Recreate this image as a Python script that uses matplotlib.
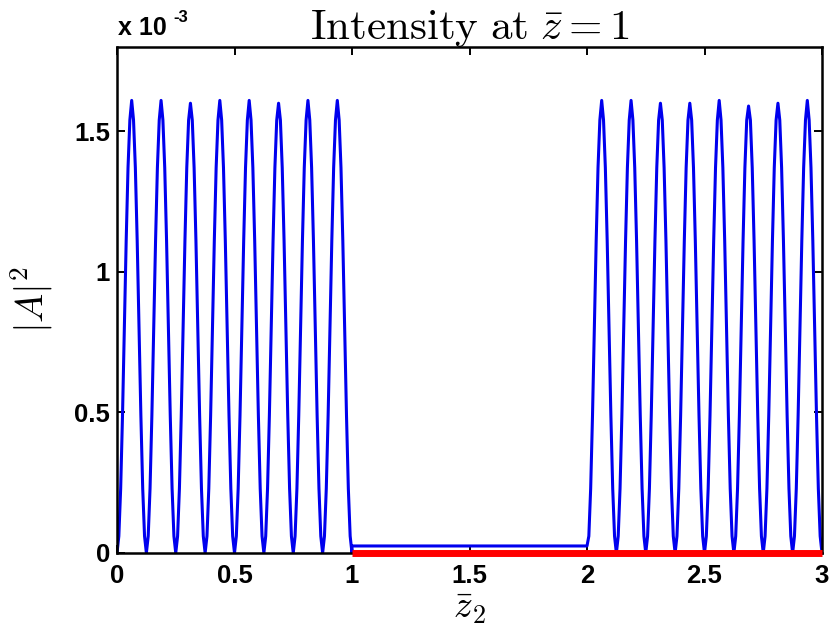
import numpy as np
import matplotlib
matplotlib.use("Agg")
import matplotlib.pyplot as plt

plt.rcParams['mathtext.fontset'] = 'cm'

# ---- data (values in units of 1e-3) ----
# one row per oscillation period, 16 samples each (period = 0.125 in z2)
seg1_rows = [
    [0, 0.06, 0.23, 0.49, 0.80, 1.11, 1.37, 1.54, 1.61, 1.54, 1.37, 1.11, 0.80, 0.49, 0.23, 0.06],
    [0, 0.06, 0.23, 0.49, 0.80, 1.11, 1.37, 1.54, 1.61, 1.54, 1.37, 1.11, 0.80, 0.49, 0.23, 0.06],
    [0, 0.06, 0.23, 0.49, 0.80, 1.11, 1.37, 1.54, 1.60, 1.54, 1.37, 1.11, 0.80, 0.49, 0.23, 0.06],
    [0, 0.06, 0.23, 0.49, 0.80, 1.11, 1.37, 1.54, 1.61, 1.54, 1.37, 1.11, 0.80, 0.49, 0.23, 0.06],
    [0, 0.06, 0.23, 0.49, 0.80, 1.11, 1.37, 1.54, 1.61, 1.54, 1.37, 1.11, 0.80, 0.49, 0.23, 0.06],
    [0, 0.06, 0.23, 0.49, 0.80, 1.11, 1.37, 1.54, 1.60, 1.54, 1.37, 1.11, 0.80, 0.49, 0.23, 0.06],
    [0, 0.06, 0.23, 0.49, 0.80, 1.11, 1.37, 1.54, 1.61, 1.54, 1.37, 1.11, 0.80, 0.49, 0.23, 0.06],
    [0, 0.06, 0.23, 0.49, 0.80, 1.11, 1.37, 1.54, 1.61, 1.54, 1.37, 1.11, 0.80, 0.49, 0.23, 0.06],
]
seg1_end = [0.0]
mid_z = [1.0, 1.0, 2.0]
mid_I = [0.0, 0.025, 0.025]
seg3_rows = [
    [0.025, 0.06, 0.23, 0.49, 0.80, 1.11, 1.37, 1.54, 1.61, 1.54, 1.37, 1.11, 0.80, 0.49, 0.23, 0.06],
    [0, 0.06, 0.23, 0.49, 0.80, 1.11, 1.37, 1.54, 1.61, 1.54, 1.37, 1.11, 0.80, 0.49, 0.23, 0.06],
    [0, 0.06, 0.23, 0.49, 0.80, 1.11, 1.37, 1.54, 1.60, 1.54, 1.37, 1.11, 0.80, 0.49, 0.23, 0.06],
    [0, 0.06, 0.23, 0.49, 0.80, 1.11, 1.37, 1.54, 1.60, 1.54, 1.37, 1.11, 0.80, 0.49, 0.23, 0.06],
    [0, 0.06, 0.23, 0.49, 0.80, 1.11, 1.37, 1.54, 1.61, 1.54, 1.37, 1.11, 0.80, 0.49, 0.23, 0.06],
    [0, 0.06, 0.23, 0.49, 0.80, 1.11, 1.37, 1.54, 1.59, 1.54, 1.37, 1.11, 0.80, 0.49, 0.23, 0.06],
    [0, 0.06, 0.23, 0.49, 0.80, 1.11, 1.37, 1.54, 1.60, 1.54, 1.37, 1.11, 0.80, 0.49, 0.23, 0.06],
    [0, 0.06, 0.23, 0.49, 0.80, 1.11, 1.37, 1.54, 1.61, 1.54, 1.37, 1.11, 0.80, 0.49, 0.23, 0.06],
]
seg3_end = [0.0]
red_z = [1.0, 3.0]
red_I = [0.0, 0.0]

xticks = [0, 0.5, 1, 1.5, 2, 2.5, 3]
xticklabels = ['0', '0.5', '1', '1.5', '2', '2.5', '3']
yticks = [0, 0.5, 1, 1.5]
yticklabels = ['0', '0.5', '1', '1.5']

# ---- build series ----
seg1_I = np.concatenate([np.ravel(seg1_rows), seg1_end])
seg1_z = np.linspace(0.0, 1.0, len(seg1_I))
seg3_I = np.concatenate([np.ravel(seg3_rows), seg3_end])
seg3_z = np.linspace(2.0, 3.0, len(seg3_I))

z = np.concatenate([seg1_z, mid_z, seg3_z])
I = np.concatenate([seg1_I, mid_I, seg3_I])

W, H = 833, 628
fig = plt.figure(figsize=(W / 100, H / 100), dpi=100)
ax = fig.add_axes([117 / W, 1 - 553 / H, (822 - 117) / W, (553 - 47) / H])

ax.plot(z, I, color='#0000ee', lw=2.2, zorder=2)
ax.plot(red_z, red_I, color='#ff0000', lw=5.0, zorder=3, clip_on=False,
        solid_capstyle='butt')

ax.set_xlim(0, 3)
ax.set_ylim(0, 1.8)
ax.set_xticks(xticks)
ax.set_xticklabels(xticklabels)
ax.set_yticks(yticks)
ax.set_yticklabels(yticklabels)

for lab in ax.get_xticklabels() + ax.get_yticklabels():
    lab.set_fontfamily('Liberation Sans')
    lab.set_fontweight('bold')
    lab.set_fontsize(18.5)

ax.tick_params(direction='in', top=True, right=True, length=6, width=1.4)
ax.tick_params(axis='x', pad=8)
ax.tick_params(axis='y', pad=5)
for sp in ax.spines.values():
    sp.set_linewidth(1.8)

ax.set_title(r'$\mathrm{Intensity\ at\ }\bar{z}=1$', fontsize=31, pad=6)
ax.set_xlabel(r'$\bar{z}_2$', fontsize=27, labelpad=1)
ax.set_ylabel(r'$|A|^2$', fontsize=28, labelpad=14)

fig.text(118 / W, 1 - 35 / H, 'x 10', fontsize=18, fontweight='bold',
         family='Liberation Sans', ha='left', va='baseline')
fig.text(173 / W, 1 - 22 / H, '-3', fontsize=12, fontweight='bold',
         family='Liberation Sans', ha='left', va='baseline')

fig.savefig('out.png', dpi=100)
